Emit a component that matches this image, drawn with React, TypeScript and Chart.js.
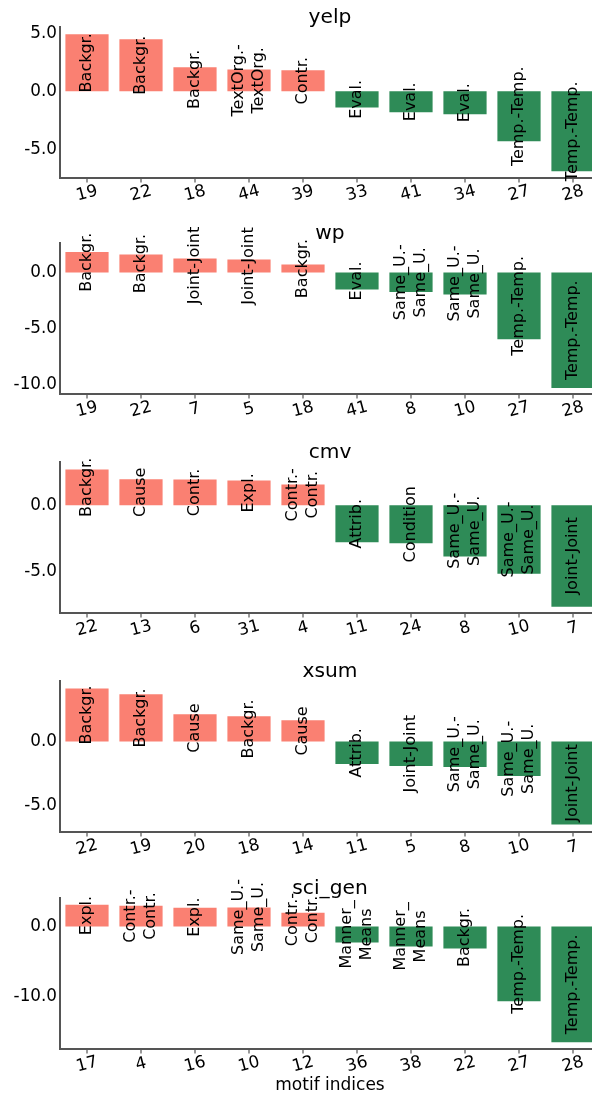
import React, { useEffect, useRef } from "react";
import { Chart, registerables } from "chart.js";

Chart.register(...registerables);

const FONT = '"DejaVu Sans", sans-serif';
const SALMON = "#FA8072";
const GREEN = "#2E8B57";
const AXIS = "#555555";

// ---- data ----
const panelTitles = ["yelp", "wp", "cmv", "xsum", "sci_gen"];

const yelpIdx = ["19", "22", "18", "44", "39", "33", "41", "34", "27", "28"];
const yelpVals = [4.91, 4.48, 2.06, 1.88, 1.81, -1.4, -1.81, -1.98, -4.31, -6.9];
const yelpRel = ["Backgr.", "Backgr.", "Backgr.", "TextOrg.-\nTextOrg.", "Contr.", "Eval.", "Eval.", "Eval.", "Temp.-Temp.", "Temp.-Temp."];

const wpIdx = ["19", "22", "7", "5", "18", "41", "8", "10", "27", "28"];
const wpVals = [1.84, 1.6, 1.25, 1.16, 0.71, -1.51, -1.75, -1.96, -5.97, -10.33];
const wpRel = ["Backgr.", "Backgr.", "Joint-Joint", "Joint-Joint", "Backgr.", "Eval.", "Same_U.-\nSame_U.", "Same_U.-\nSame_U.", "Temp.-Temp.", "Temp.-Temp."];

const cmvIdx = ["22", "13", "6", "31", "4", "11", "24", "8", "10", "7"];
const cmvVals = [2.7, 1.95, 1.93, 1.86, 1.57, -2.8, -2.88, -3.87, -5.18, -7.66];
const cmvRel = ["Backgr.", "Cause", "Contr.", "Expl.", "Contr.-\nContr.", "Attrib.", "Condition", "Same_U.-\nSame_U.", "Same_U.-\nSame_U.", "Joint-Joint"];

const xsumIdx = ["22", "19", "20", "18", "14", "11", "5", "8", "10", "7"];
const xsumVals = [4.18, 3.71, 2.14, 1.99, 1.67, -1.76, -1.91, -1.99, -2.7, -6.51];
const xsumRel = ["Backgr.", "Backgr.", "Cause", "Backgr.", "Cause", "Attrib.", "Joint-Joint", "Same_U.-\nSame_U.", "Same_U.-\nSame_U.", "Joint-Joint"];

const sciIdx = ["17", "4", "16", "10", "12", "36", "38", "22", "27", "28"];
const sciVals = [3.07, 2.93, 2.64, 2.66, 1.94, -2.26, -2.83, -3.11, -10.58, -16.4];
const sciRel = ["Expl.", "Contr.-\nContr.", "Expl.", "Same_U.-\nSame_U.", "Contr.-\nContr.", "Manner_\nMeans", "Manner_\nMeans", "Backgr.", "Temp.-Temp.", "Temp.-Temp."];

const yMins = [-7.48, -10.87, -8.14, -7.1, -17.34];
const yMaxs = [5.54, 2.64, 3.26, 4.76, 4.02];
const yTickVals = [[-5, 0, 5], [-10, -5, 0], [-5, 0], [-5, 0], [-10, 0]];
const xAxisTitle = "motif indices";

const allIdx = [yelpIdx, wpIdx, cmvIdx, xsumIdx, sciIdx];
const allVals = [yelpVals, wpVals, cmvVals, xsumVals, sciVals];
const allRel = [yelpRel, wpRel, cmvRel, xsumRel, sciRel];

// ---- layout ----
const AXIS_TOPS = [27, 243, 462, 681, 898];
const PAD_TOP = 40;
const PLOT_H = 151;
const X_AREA = 45;

type PanelProps = {
  k: number;
  xlabel?: string;
};

function Panel({ k, xlabel }: PanelProps) {
  const ref = useRef<HTMLCanvasElement | null>(null);
  const canvasH = PAD_TOP + PLOT_H + X_AREA + (xlabel ? 4 : 0);
  const top = AXIS_TOPS[k] - PAD_TOP;

  useEffect(() => {
    if (!ref.current) return;
    const idx = allIdx[k];
    const vals = allVals[k];
    const rels = allRel[k];
    const ticks = yTickVals[k];
    const title = panelTitles[k];

    const drawPlugin = {
      id: "customDraw" + k,
      afterDatasetsDraw(chart: any) {
        const ctx = chart.ctx as CanvasRenderingContext2D;
        const area = chart.chartArea;
        const xs = chart.scales.x;
        ctx.save();
        // bar labels
        const meta = chart.getDatasetMeta(0);
        ctx.fillStyle = "#000";
        ctx.font = `16px ${FONT}`;
        ctx.textAlign = "center";
        ctx.textBaseline = "middle";
        meta.data.forEach((bar: any, i: number) => {
          const p = bar.getProps(["x", "y", "base"], true);
          const cy = (p.y + p.base) / 2;
          const lines = rels[i].split("\n");
          const lh = 19.5;
          ctx.save();
          ctx.translate(p.x, cy);
          ctx.rotate(-Math.PI / 2);
          lines.forEach((ln: string, j: number) => {
            ctx.fillText(ln, 0, (j - (lines.length - 1) / 2) * lh);
          });
          ctx.restore();
        });
        // x tick marks + labels
        ctx.strokeStyle = AXIS;
        ctx.lineWidth = 1.2;
        ctx.font = `16.8px ${FONT}`;
        idx.forEach((lab: string, i: number) => {
          const x = xs.getPixelForValue(i);
          ctx.beginPath();
          ctx.moveTo(x, area.bottom + 1);
          ctx.lineTo(x, area.bottom + 4.5);
          ctx.stroke();
          ctx.save();
          ctx.translate(x, area.bottom + 15.5);
          ctx.rotate((-15 * Math.PI) / 180);
          ctx.textAlign = "center";
          ctx.textBaseline = "middle";
          ctx.fillText(lab, 0, 0);
          ctx.restore();
        });
        // title
        ctx.font = `20.2px ${FONT}`;
        ctx.textAlign = "center";
        ctx.textBaseline = "alphabetic";
        ctx.fillText(title, (area.left + area.right) / 2, area.top - 4);
        if (xlabel) {
          ctx.font = `17px ${FONT}`;
          ctx.fillText(xlabel, (area.left + area.right) / 2, area.bottom + 41);
        }
        ctx.restore();
      },
    };

    const chart = new Chart(ref.current, {
      type: "bar",
      data: {
        labels: idx,
        datasets: [
          {
            data: vals,
            backgroundColor: vals.map((v) => (v >= 0 ? SALMON : GREEN)),
            barPercentage: 0.8,
            categoryPercentage: 1.0,
            borderWidth: 0,
          },
        ],
      },
      options: {
        animation: false,
        responsive: true,
        maintainAspectRatio: false,
        devicePixelRatio: window.devicePixelRatio || 1,
        layout: { padding: { top: PAD_TOP, left: 0, right: 0, bottom: 0 } },
        plugins: {
          legend: { display: false },
          tooltip: { enabled: false },
          title: { display: false },
        },
        scales: {
          x: {
            type: "category",
            offset: true,
            grid: { display: false, drawTicks: false },
            border: { display: true, color: AXIS, width: 2 },
            ticks: { display: false },
            afterFit: (s: any) => {
              s.height = X_AREA + (xlabel ? 4 : 0);
            },
          },
          y: {
            type: "linear",
            min: yMins[k],
            max: yMaxs[k],
            grid: { display: false, drawTicks: false },
            border: { display: true, color: AXIS, width: 2 },
            ticks: {
              color: "#000",
              padding: 3,
              font: { family: FONT, size: 16.8 },
              callback: (v: any) => Number(v).toFixed(1),
            },
            afterBuildTicks: (s: any) => {
              s.ticks = ticks.map((v) => ({ value: v }));
            },
            afterFit: (s: any) => {
              s.width = 60;
            },
          },
        },
      } as any,
      plugins: [drawPlugin],
    });
    return () => chart.destroy();
  }, [k, xlabel]);

  return (
    <div
      style={{
        position: "absolute",
        left: 0,
        top,
        width: 600,
        height: canvasH,
      }}
    >
      <canvas ref={ref} />
    </div>
  );
}

export default function App() {
  return (
    <div
      style={{
        position: "absolute",
        left: 0,
        top: 0,
        width: 592,
        height: 1095,
        overflow: "hidden",
        background: "#fff",
      }}
    >
      {panelTitles.map((t, k) => (
        <Panel key={t} k={k} xlabel={k === panelTitles.length - 1 ? xAxisTitle : undefined} />
      ))}
    </div>
  );
}
